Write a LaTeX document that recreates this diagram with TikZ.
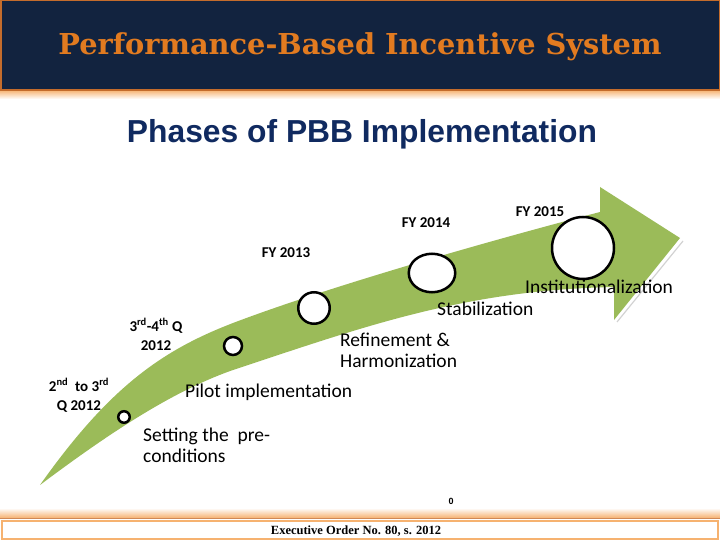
\documentclass[tikz,border=0pt]{standalone}
\usepackage{fontspec}
\usepackage{xcolor}
\usepackage{tikz}
\usetikzlibrary{shapes.geometric}
\newfontfamily\calibri{Carlito}
\newfontfamily\arialfont{Liberation Sans}
\newfontfamily\timesfont{Liberation Serif}
\newfontfamily\slabfont{DejaVu Serif}
\definecolor{bandnavy}{RGB}{18,35,63}
\definecolor{bandorange}{RGB}{196,108,44}
\definecolor{titleorange}{RGB}{226,123,32}
\definecolor{subblue}{RGB}{16,42,96}
\definecolor{arrowgreen}{RGB}{155,187,89}
\definecolor{glow}{RGB}{246,178,112}

\begin{document}
\begin{tikzpicture}[x=1pt, y=-1pt,
  stage/.style={draw, ellipse, line width=2.5pt, fill=white, inner sep=0pt},
  phase/.style={font=\calibri\fontsize{19.5}{20.5}\selectfont, align=left, anchor=base west, inner sep=0pt},
  when/.style={font=\calibri\bfseries\fontsize{15}{19}\selectfont, align=center, anchor=base, inner sep=0pt},
  headtext/.style={font=\slabfont\bfseries\fontsize{28.8}{28.8}\selectfont, anchor=base, inner sep=0pt}
]
  \useasboundingbox (0,0) rectangle (720,540);

  % Header band
  \fill[top color=glow, bottom color=white] (0,90) rectangle (720,99);
  \draw[bandorange, line width=1.5pt, fill=bandnavy] (0.75,0.75) rectangle (719.25,90);
  \node[headtext, titleorange] (title) at (360,55) {Performance-Based Incentive System};

  % Subtitle
  \node[font=\arialfont\bfseries\fontsize{31.8}{31.8}\selectfont, subblue, anchor=base, inner sep=0pt] (subtitle) at (362,143) {Phases of PBB Implementation};

  % Curved arrow
  \draw[gray!35, line width=1.2pt] (617,322) -- (683,241);
  \fill[arrowgreen] (40,485) .. controls (110,432.5) and (173,391) .. (233,370)
    .. controls (363,327) and (464,290) .. (614,287)
    -- (614,320) -- (680,238) -- (600,187) -- (600,212)
    .. controls (500,238) and (333,285) .. (233,323)
    .. controls (163,350) and (110,386) .. (40,485) -- cycle;

  % Milestones along the arrow
  \foreach \n/\x/\y/\w/\h in {1/124/417/11.5/11.5, 2/233/346/18/18, 3/314/308/31.5/31.5, 4/432/273/46.5/38.5, 5/583/248/62/62} {
    \node[stage, minimum width=\w pt, minimum height=\h pt] (s\n) at (\x,\y) {};
  }

  % Periods
  \node[when] (q2) at (79,410) {2\textsuperscript{nd}\ \ to 3\textsuperscript{rd}\\Q 2012};
  \node[when] (q34) at (156,350) {3\textsuperscript{rd}-4\textsuperscript{th} Q\\2012};
  \foreach \n/\x/\y in {2013/286/258, 2014/426/228, 2015/540/216} {
    \node[when] (fy\n) at (\x,\y) {FY \n};
  }

  % Phases
  \node[phase] (setting) at (143,462) {Setting the\ \ pre-\\conditions};
  \node[phase] (pilot) at (185,397) {Pilot implementation};
  \node[phase] (refine) at (340,367) {Refinement \&\\Harmonization};
  \node[phase] (stab) at (437,315) {Stabilization};
  \node[phase] (inst) at (525,293) {Institutionalization};

  \node[font=\arialfont\bfseries\fontsize{9}{9}\selectfont, anchor=base, inner sep=0pt] (zero) at (451,504) {0};

  % Footer
  \fill[top color=white, bottom color=glow] (0,508) rectangle (720,518);
  \draw[bandorange!80, line width=1pt] (0,518.5) -- (720,518.5);
  \draw[glow, line width=2pt, fill=white] (2,521) rectangle (718,539);
  \node[font=\timesfont\bfseries\fontsize{12.5}{12.5}\selectfont, anchor=base, inner sep=0pt] (order) at (356,534) {Executive Order No. 80, s. 2012};
\end{tikzpicture}
\end{document}
